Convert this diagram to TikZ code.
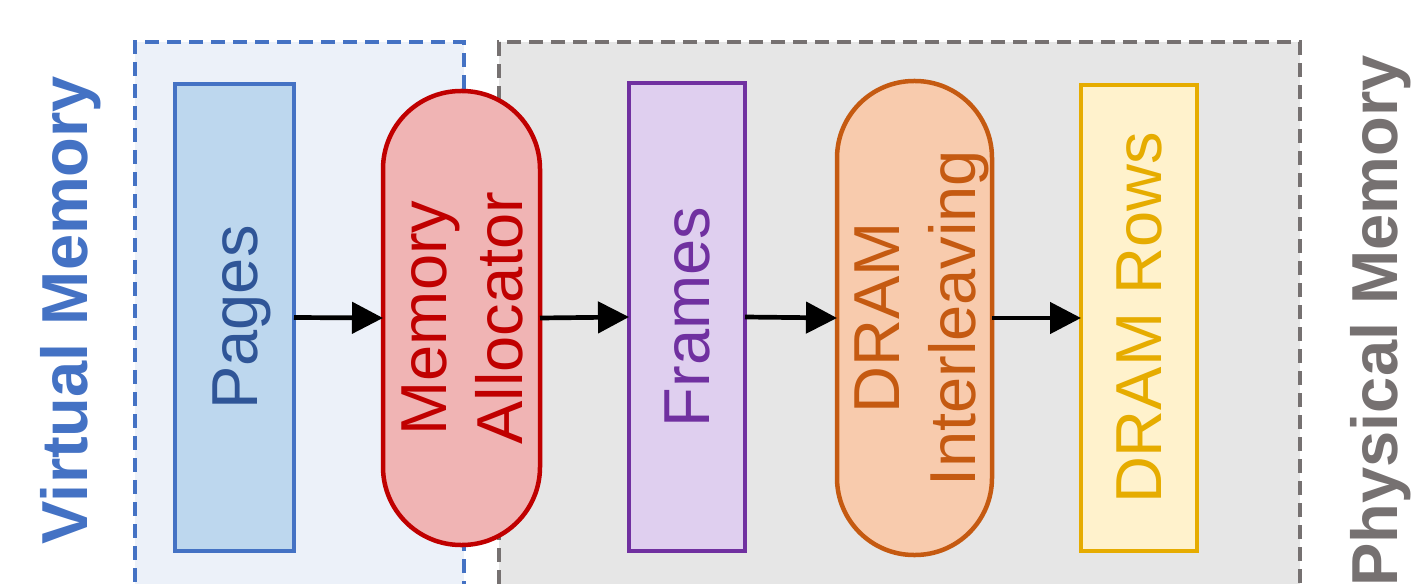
\documentclass[tikz,border=0pt]{standalone}
\usepackage{fontspec}
\setmainfont{Liberation Sans}
\usetikzlibrary{arrows.meta}

\definecolor{vmblue}{HTML}{4472C4}
\definecolor{vmfill}{HTML}{ECF1F9}
\definecolor{pmgray}{HTML}{767171}
\definecolor{pmfill}{HTML}{E6E6E6}
\definecolor{pgfillc}{HTML}{BDD7EE}
\definecolor{pgtext}{HTML}{2F5597}
\definecolor{alred}{HTML}{C00000}
\definecolor{alfill}{HTML}{F0B4B4}
\definecolor{frpurple}{HTML}{7030A0}
\definecolor{frfill}{HTML}{DFCFEF}
\definecolor{ilorange}{HTML}{C55A11}
\definecolor{ilfill}{HTML}{F8CBAD}
\definecolor{rwgold}{HTML}{E6AC00}
\definecolor{rwfill}{HTML}{FFF2CC}

% invisible strut giving every text line the full ascent and descent of the font
\newcommand{\lnstrut}{\rule[-0.212em]{0pt}{1.117em}}

\tikzset{
  region/.style={draw, line width=4.5pt, dash pattern=on 14pt off 8pt, outer sep=0pt, inner sep=0pt},
  block/.style={draw, line width=4.5pt, outer sep=0pt, inner sep=0pt},
  lbl/.style={rotate=90, anchor=center, align=center, inner sep=0pt, font=\fontsize{65}{76}\selectfont},
  side/.style={rotate=90, anchor=base, font=\fontsize{65}{70}\selectfont\bfseries},
  flow/.style={line width=4.7pt, -{Triangle[length=31pt,width=31pt]}}
}

\begin{document}
\begin{tikzpicture}[x=1pt, y=-1pt]
\useasboundingbox (0,0) rectangle (1412,583);
\clip (0,0) rectangle (1412,583);

% address-space regions (open towards the bottom)
\node[region, draw=vmblue, fill=vmfill, minimum width=329pt, minimum height=598pt] (virt) at (299.5,341) {};
\node[region, draw=pmgray, fill=pmfill, minimum width=801pt, minimum height=598pt] (phys) at (899.5,341) {};

% side titles (the lower one runs off the bottom edge)
\node[side, text=vmblue] (vtitle) at (87.5,310) {Virtual Memory};
\node[side, text=pmgray] (ptitle) at (1397,321) {Physical Memory};

% pipeline stages
\node[block, draw=vmblue, fill=pgfillc, minimum width=119pt, minimum height=467pt,
      label={[lbl, text=pgtext]center:\lnstrut Pages}] (pages) at (234.5,317.5) {};
\node[block, draw=alred, fill=alfill, minimum width=157pt, minimum height=454pt, rounded corners=78pt,
      label={[lbl, text=alred]center:\lnstrut Memory\\\lnstrut Allocator}] (alloc) at (461.5,318) {};
\node[block, draw=frpurple, fill=frfill, minimum width=116pt, minimum height=468pt,
      label={[lbl, text=frpurple]center:\lnstrut Frames}] (frames) at (687,317) {};
\node[block, draw=ilorange, fill=ilfill, minimum width=155pt, minimum height=474pt, rounded corners=77pt,
      label={[lbl, text=ilorange]center:\lnstrut DRAM\\\lnstrut Interleaving}] (inter) at (914.5,318) {};
\node[block, draw=rwgold, fill=rwfill, minimum width=116pt, minimum height=466pt,
      label={[lbl, text=rwgold]center:\lnstrut DRAM Rows}] (rows) at (1139,318) {};

% flow arrows
\draw[flow] (pages.east) -- (alloc.west);
\draw[flow] (alloc.east) -- (frames.west);
\draw[flow] (frames.east) -- (inter.west);
\draw[flow] (inter.east) -- (rows.west);
\end{tikzpicture}
\end{document}
